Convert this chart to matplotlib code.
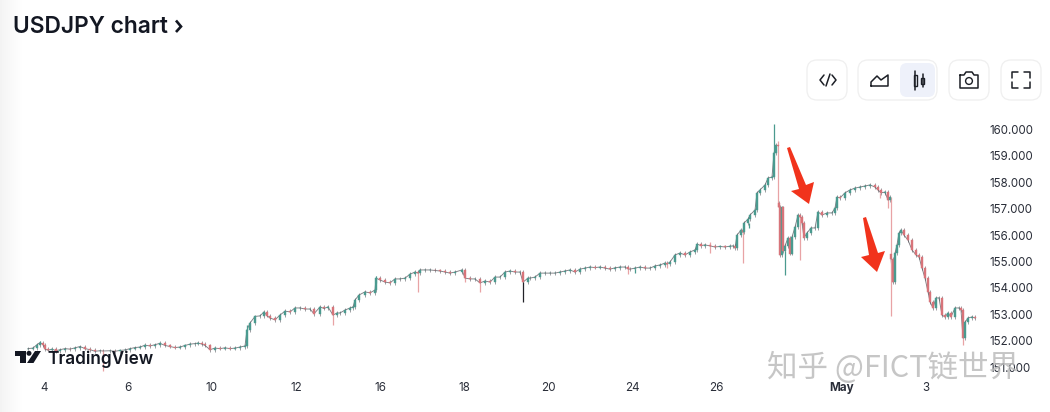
import numpy as np
import matplotlib
matplotlib.use("Agg")
import matplotlib.pyplot as plt
from matplotlib.patches import Polygon, FancyBboxPatch, Circle, Rectangle

bar_x = [28,33,37,40,43,45,48,52,56,60,65,70,75,80,85,90,95,100,103,110,115,120,125,130,135,140,145,150,155,160,
         165,170,175,180,185,190,195,198,202,205,210,215,220,225,230,235,240,245,247,250,255,260,264,267,270,275,280,285,290,295,
         300,305,310,314,320,324,328,333,337,340,345,350,353,355,359,365,370,375,376,380,385,390,395,400,405,410,415,418,420,425,
         430,435,440,445,450,455,462,465,470,475,480,485,490,495,500,505,510,515,520,523,528,530,535,540,545,550,555,560,565,570,
         575,580,585,590,595,600,605,610,615,620,625,628,630,635,640,645,650,655,660,665,667,670,675,680,685,690,695,697,701,705,
         710,715,720,725,730,733,735,737,741,743,744,748,750,755,757,760,765,768,772,774,776,778,779,780,782,783,785,788,790,792,
         795,798,800,802,804,807,811,815,818,822,827,832,835,837,840,845,850,855,860,865,870,875,878,881,885,888,890,891,893,895,
         897,899,901,904,908,912,916,919,922,925,928,930,933,936,939,942,945,948,951,955,959,961,963,965,968,972,975]
closes = [151.70,151.72,151.85,151.93,151.85,151.68,151.64,151.68,151.62,151.66,151.70,151.68,151.73,151.78,151.70,151.66,151.60,151.62,151.61,151.62,151.60,151.63,151.65,151.70,151.74,151.76,151.83,151.80,151.85,151.90,
          151.82,151.78,151.74,151.76,151.82,151.87,151.89,151.91,151.87,151.82,151.66,151.72,151.70,151.73,151.70,151.72,151.76,151.80,152.41,152.67,152.92,152.94,153.09,152.95,152.86,152.79,152.97,153.12,153.09,153.24,
          153.24,153.20,153.20,153.02,153.28,153.22,153.28,152.97,153.05,153.05,153.16,153.24,153.28,153.54,153.73,153.85,153.81,153.92,154.37,154.30,154.22,154.19,154.34,154.34,154.37,154.52,154.60,154.56,154.68,154.68,
          154.68,154.66,154.64,154.60,154.56,154.60,154.68,154.37,154.34,154.34,154.19,154.26,154.22,154.41,154.41,154.60,154.64,154.60,154.60,154.22,154.37,154.37,154.41,154.56,154.56,154.56,154.56,154.60,154.64,154.68,
          154.60,154.71,154.75,154.79,154.77,154.79,154.75,154.71,154.76,154.79,154.79,154.72,154.71,154.75,154.79,154.75,154.75,154.83,154.87,154.94,154.90,154.98,155.25,155.32,155.25,155.36,155.44,155.66,155.60,155.63,
          155.59,155.55,155.57,155.55,155.58,155.59,155.51,156.00,156.19,156.10,156.46,156.60,156.76,156.95,157.60,157.71,157.90,158.16,158.20,159.11,159.40,159.37,157.07,155.25,157.05,155.40,155.60,155.89,155.30,155.93,
          156.30,156.76,156.70,156.46,155.90,156.08,156.27,156.27,156.88,156.76,156.84,156.84,157.03,157.44,157.41,157.60,157.71,157.78,157.82,157.86,157.90,157.82,157.71,157.60,157.63,157.33,157.44,155.10,154.22,155.32,
          155.63,156.08,156.19,156.00,155.81,155.44,155.25,155.17,154.75,154.37,153.85,153.47,153.24,153.62,153.62,152.97,152.90,153.05,152.90,153.24,153.24,153.16,152.10,152.70,152.86,152.90,152.86]
gap_bars = [779,891]
gap_opens = [157.22,155.30]
wick_bars = [40,103,247,333,376,376,418,465,480,523,628,635,667,710,710,743,749,774,778,778,785,800,880,888,891,891,963]
wick_ends = [152.00,150.85,152.60,152.60,154.45,154.19,153.85,154.22,153.85,153.48,154.52,154.56,154.75,155.32,155.75,154.94,156.27,160.21,159.55,157.07,154.49,155.06,157.41,157.03,152.95,157.44,151.84]
price_ticks = [151,152,153,154,155,156,157,158,159,160]
date_ticks = [44,128,212,296,380,464,548,632,716,842,926]
date_labels = ["4","6","10","12","16","18","20","24","26","May","3"]

W, H = 1050, 412
UP, DOWN = "#4a9a8f", "#d8747a"
TXT = "#131722"
fig = plt.figure(figsize=(W/100, H/100), dpi=100, facecolor="white")

bg = fig.add_axes([0, 0, 1, 1], zorder=0)
bg.imshow(np.linspace(0.955, 1, 24)[None, :], cmap="gray", vmin=0, vmax=1, aspect="auto", extent=(0, 24, 412, 0))
bg.set_xlim(0, W); bg.set_ylim(H, 0); bg.axis("off")

ax = fig.add_axes([0, 1-376/H, 984/W, 276/H], zorder=1)
ax.patch.set_alpha(0)
ax.set_xlim(0, 984)
ax.set_ylim(150.663, 161.117)
for s in ax.spines.values():
    s.set_visible(False)

xs = np.array(bar_x, float)
cl = np.array(closes)
op = np.r_[cl[0], cl[:-1]]
for b, o in zip(gap_bars, gap_opens):
    op[bar_x.index(b)] = o
cols = np.where(cl >= op, UP, DOWN)
# thread of closes keeps the dense candles reading as one continuous trace
cut = np.array(cl, float)
cx = np.array(xs, float)
for b in gap_bars:
    k = bar_x.index(b)
    cut[k-1] = np.nan if b == 891 else cut[k-1]
ax.plot(np.where(np.isin(xs, [778.0, 779.0]), np.nan, cx), cut, color="#66666c", lw=0.65, alpha=0.85, zorder=1.8)
ax.vlines(xs, np.minimum(op, cl)-0.07, np.maximum(op, cl)+0.07, colors="#55555c", lw=0.5, alpha=0.8, zorder=2)
ax.bar(xs, cl-op, bottom=op, width=1.2, color=cols, edgecolor=cols, linewidth=0.3, zorder=3)
for b, e in zip(wick_bars, wick_ends):
    i = int(np.argmin(np.abs(xs-b)))
    ref = op[i] if abs(op[i]-e) < abs(cl[i]-e) else cl[i]
    c = UP if cols[i] == UP else "#e8a3a5"
    if b == 523:
        c = "#222228"
    ax.vlines(b, min(ref, e), max(ref, e), colors=c, lw=0.9, zorder=2.5)

ax.set_xticks(date_ticks, date_labels)
ax.set_yticks(price_ticks, [f"{p:.3f}" for p in price_ticks])
ax.yaxis.tick_right()
ax.tick_params(axis="both", length=0)
ax.tick_params(axis="x", pad=4.5, labelsize=8.4, labelcolor="#2a2e39")
ax.tick_params(axis="y", pad=4.0, labelsize=8.3, labelcolor="#2a2e39")
for t in ax.get_xticklabels()+ax.get_yticklabels():
    t.set_family(["Inter", "DejaVu Sans"])
ax.get_xticklabels()[9].set_fontweight("bold")

ui = fig.add_axes([0, 0, 1, 1], zorder=2)
ui.set_xlim(0, W); ui.set_ylim(H, 0); ui.axis("off")
ui.text(13, 32.5, "USDJPY chart", family=["Inter", "DejaVu Sans"], fontsize=16.4, weight="semibold", color=TXT, va="baseline")
ui.plot([176, 181, 176], [20.5, 26.5, 32], color=TXT, lw=1.9, solid_capstyle="butt", solid_joinstyle="miter")

RED = "#f1331c"
ui.add_patch(Polygon([(787,148),(790,147),(806,185),(814,182),(809,204),(791,191),(799,189)], fc=RED, ec="none"))
ui.add_patch(Polygon([(863,218),(866,217),(878,253),(885,251),(877,272),(861,257),(869,255)], fc=RED, ec="none"))

for x0, x1 in [(807,847),(858,937),(949,989),(1001,1041)]:
    ui.add_patch(FancyBboxPatch((x0,60), x1-x0, 40, boxstyle="round,pad=0,rounding_size=10", fc="white", ec="#efefef", lw=0.9))
ui.add_patch(FancyBboxPatch((900,63), 35, 34, boxstyle="round,pad=0,rounding_size=7", fc="#eef1fa", ec="none"))
ic = dict(color="#1c1f26", lw=1.1, solid_capstyle="round", solid_joinstyle="round")
ui.plot([824,820,824],[75,80,85], **ic); ui.plot([832,836,832],[75,80,85], **ic); ui.plot([826,830],[86,74], **ic)
ui.plot([871,871,877,881,888,888,871],[86,82,76,80,75,86,86], **ic)
ui.add_patch(Rectangle((913.5,75),3,11,fc="none",ec="#1c1f26",lw=1.0)); ui.plot([915,915],[71,90],**ic)
ui.add_patch(Rectangle((921,77.5),3,6,fc="none",ec="#1c1f26",lw=1.0)); ui.plot([922.5,922.5],[74,87],**ic)
ui.plot([960,964,966,972,974,978,978,960,960],[75,75,72,72,75,75,88,88,75], **ic)
ui.add_patch(Circle((969,81),3.4,fc="none",ec="#1c1f26",lw=1.0))
for xa, xb, ya, yb in [(1018,1012,72,78),(1024,1030,72,78),(1018,1012,88,82),(1024,1030,88,82)]:
    ui.plot([xa,xb,xb],[ya,ya,yb], **ic)

K = "#131722"
ui.add_patch(Polygon([(15,351),(25.5,351),(25.5,363),(20,363),(20,356),(15,356)], fc=K, ec="none"))
ui.add_patch(Circle((29,353.3),2.5,fc=K,ec="none"))
ui.add_patch(Polygon([(35,351),(41,351),(33.5,363),(27,363)], fc=K, ec="none"))
ui.text(47, 364, "TradingView", family=["Inter", "DejaVu Sans"], fontsize=12.4, weight="semibold", color=K, va="baseline")

ui.text(767, 368, "知乎 @FICT链世界", family=["Noto Sans CJK SC", "DejaVu Sans"], fontsize=22, color="#bcbcbc",
        alpha=0.85, va="center", ha="left")

fig.savefig("out.png", dpi=100)
